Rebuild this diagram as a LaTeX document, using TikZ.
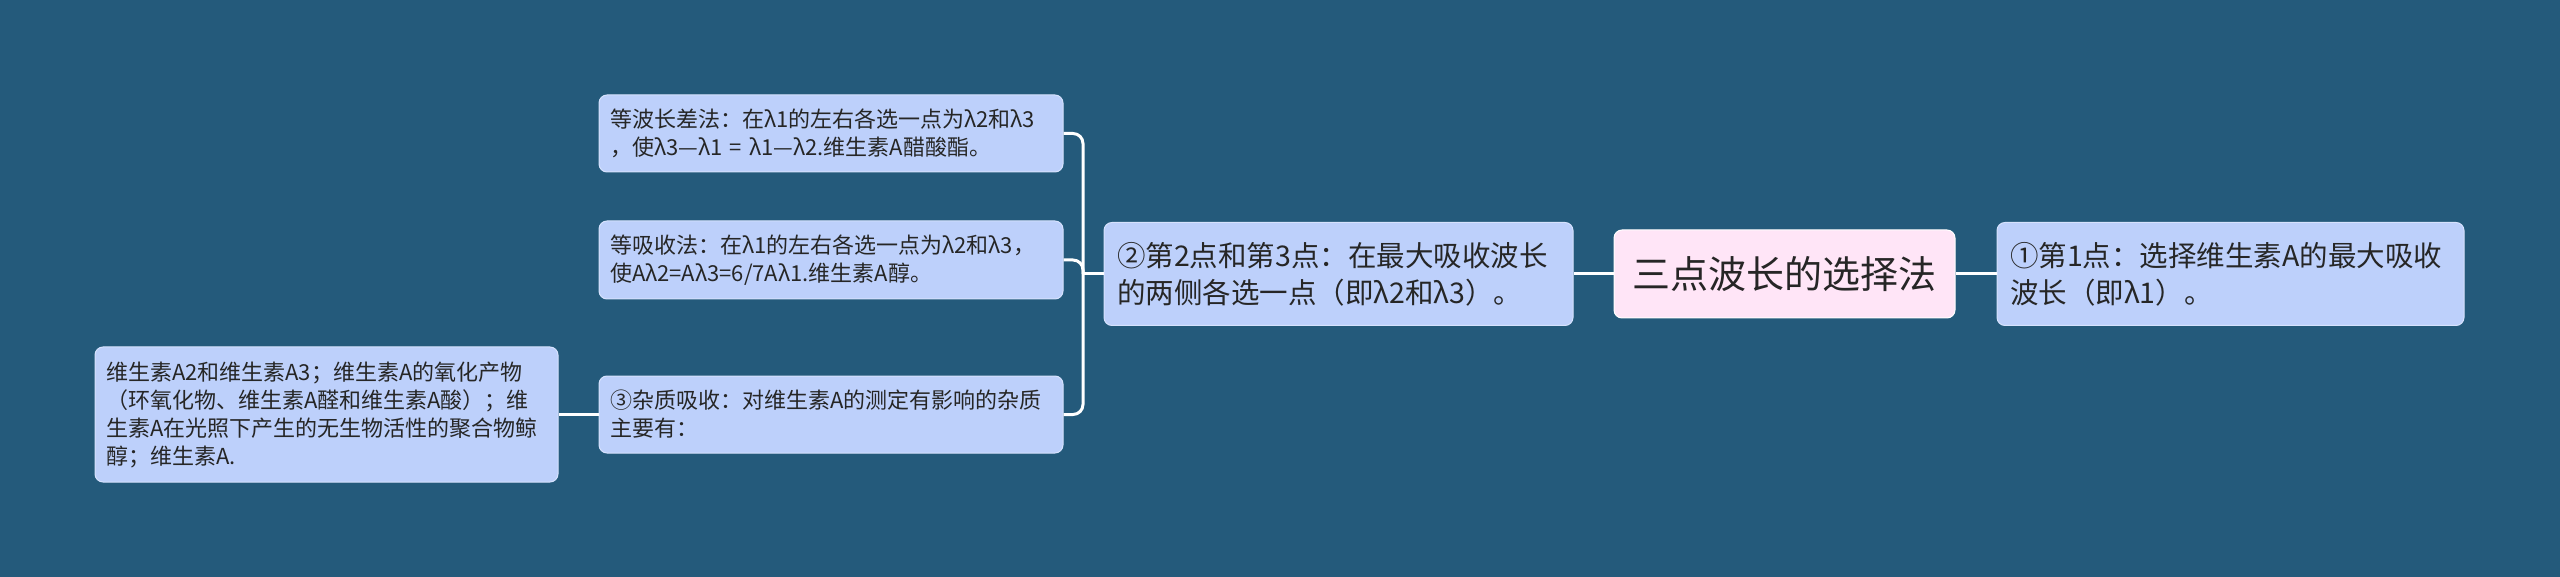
\documentclass[tikz,border=0pt]{standalone}
\usepackage{fontspec}
\setmainfont{Noto Sans CJK SC}
\definecolor{bg}{HTML}{245A7B}
\definecolor{leaf}{HTML}{BDD0FB}
\definecolor{leafb}{HTML}{D6E2FD}
\definecolor{rootf}{HTML}{FFE5F7}
\definecolor{txt}{HTML}{262626}
\tikzset{
  box/.style={draw=leafb, line width=1pt, fill=leaf, rounded corners=8pt, inner sep=0pt, align=left, text=txt, anchor=center},
  smallbox/.style={box, font=\fontsize{22}{28}\selectfont},
  midbox/.style={box, font=\fontsize{28.5}{37}\selectfont},
  rootbox/.style={box, fill=rootf, draw=white, align=center, font=\fontsize{38}{44}\selectfont},
  link/.style={draw=white, line width=3pt},
}
\begin{document}
\begin{tikzpicture}[x=1pt,y=-1pt]
\fill[bg] (0,0) rectangle (2560,577);
\useasboundingbox (0,0) rectangle (2560,577);

\node[rootbox, minimum width=341pt, minimum height=88pt] (root) at (1784.5,274) {三点波长的选择法};
\node[midbox, minimum width=467pt, minimum height=103pt, text width=441pt] (right) at (2230.5,274) {①第1点：选择维生素A的最大吸收\\波长（即λ1）。};
\node[midbox, minimum width=469pt, minimum height=103pt, text width=443pt] (mid) at (1338.5,274) {②第2点和第3点：在最大吸收波长\\的两侧各选一点（即λ2和λ3）。};

\node[smallbox, minimum width=464pt, minimum height=77pt, text width=442pt] (l1) at (831,133.5) {等波长差法：在λ1的左右各选一点为λ2和λ3\\，使λ3—λ1 = λ1—λ2.维生素A醋酸酯。};
\node[smallbox, minimum width=464pt, minimum height=78pt, text width=442pt] (l2) at (831,260) {等吸收法：在λ1的左右各选一点为λ2和λ3，\\使Aλ2=Aλ3=6/7Aλ1.维生素A醇。};
\node[smallbox, minimum width=464pt, minimum height=77pt, text width=442pt] (l3) at (831,414.5) {③杂质吸收：对维生素A的测定有影响的杂质\\主要有：};
\node[smallbox, minimum width=463pt, minimum height=135pt, text width=441pt] (far) at (326.5,414.5) {维生素A2和维生素A3；维生素A的氧化产物\\（环氧化物、维生素A醛和维生素A酸）；维\\生素A在光照下产生的无生物活性的聚合物鲸\\醇；维生素A.};

\coordinate (bx) at (1083,274);
\draw[link] (root.east) -- (right.west);
\draw[link] (root.west) -- (mid.east);
\draw[link] (mid.west) -- (bx);
\draw[link, rounded corners=10pt] (l1.east) -| (bx);
\draw[link, rounded corners=10pt] (l2.east) -| (bx);
\draw[link, rounded corners=10pt] (l3.east) -| (bx);
\draw[link] (l3.west) -- (far.east);
\end{tikzpicture}
\end{document}
